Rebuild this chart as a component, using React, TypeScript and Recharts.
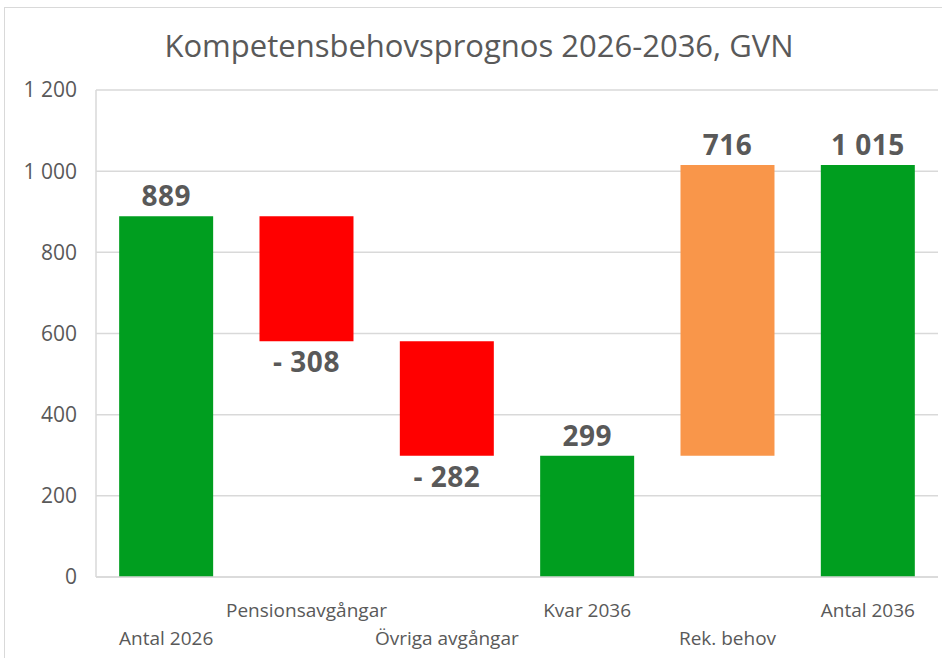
import React from "react";
import { BarChart, Bar, XAxis, YAxis, CartesianGrid, Cell, LabelList } from "recharts";

const categories = [
  "Antal 2026",
  "Pensionsavgångar",
  "Övriga avgångar",
  "Kvar 2036",
  "Rek. behov",
  "Antal 2036",
];
const values = [889, -308, -282, 299, 716, 1015];
const isTotal = [true, false, false, true, false, true];
const barColors = ["#009E1F", "#FF0000", "#FF0000", "#009E1F", "#F9964A", "#009E1F"];
const yTicks = [0, 200, 400, 600, 800, 1000, 1200];

const FONT = "'Open Sans', sans-serif";
const TEXT = "#595959";

const fmt = (n: number) =>
  (n < 0 ? "- " : "") + String(Math.abs(n)).replace(/\B(?=(\d{3})+(?!\d))/g, " ");

// build floating bars for the waterfall
let running = 0;
const data = categories.map((name, i) => {
  const v = values[i];
  let base = 0;
  if (isTotal[i]) {
    running = v;
  } else {
    base = v < 0 ? running + v : running;
    running += v;
  }
  return { name, base, size: Math.abs(v), label: fmt(v), neg: v < 0 };
});

const CategoryTick = (props: any) => {
  const { x, y, payload, index } = props;
  const dy = index % 2 === 0 ? 60 : 32;
  return (
    <text x={x} y={y + dy} textAnchor="middle" fill={TEXT} fontSize={19} fontFamily={FONT}>
      {payload.value}
    </text>
  );
};

const ValueLabel = (props: any) => {
  const { x, y, width, height, index } = props;
  const d = data[index];
  const ty = d.neg ? y + height + 31 : y - 10;
  return (
    <text
      x={x + width / 2}
      y={ty}
      textAnchor="middle"
      fill={TEXT}
      fontSize={28}
      fontWeight="bold"
      fontFamily={FONT}
      letterSpacing={0.5}
    >
      {d.label}
    </text>
  );
};

export default function App() {
  return (
    <div
      style={{
        position: "fixed",
        left: 0,
        top: 0,
        width: 942,
        height: 658,
        overflow: "hidden",
        background: "#fff",
      }}
    >
      <div
        style={{
          position: "absolute",
          left: 4,
          top: 7,
          width: 960,
          height: 700,
          border: "1px solid #d9d9d9",
        }}
      />
      <div
        style={{
          position: "absolute",
          left: 0,
          top: 25,
          width: 958,
          textAlign: "center",
          fontFamily: FONT,
          fontSize: 31,
          color: TEXT,
          lineHeight: "40px",
        }}
      >
        Kompetensbehovsprognos 2026-2036, GVN
      </div>
      <div style={{ position: "absolute", left: 0, top: 0 }}>
        <BarChart
          width={942}
          height={658}
          data={data}
          margin={{ top: 90, right: 4, bottom: 0, left: 0 }}
          barCategoryGap="16.5%"
        >
          <CartesianGrid vertical={false} stroke="#d9d9d9" strokeWidth={1.5} />
          <XAxis
            dataKey="name"
            height={81}
            interval={0}
            tickLine={false}
            axisLine={{ stroke: "#d9d9d9", strokeWidth: 1.5 }}
            tick={<CategoryTick />}
          />
          <YAxis
            width={96}
            domain={[0, 1200]}
            ticks={yTicks}
            tickFormatter={(v: number) => fmt(v)}
            tickLine={false}
            tickSize={0}
            tickMargin={19}
            axisLine={{ stroke: "#d9d9d9", strokeWidth: 1.5 }}
            tick={{ fill: TEXT, fontSize: 21, fontFamily: FONT }}
          />
          <Bar dataKey="base" stackId="w" fill="transparent" isAnimationActive={false} />
          <Bar dataKey="size" stackId="w" isAnimationActive={false}>
            {data.map((d, i) => (
              <Cell key={d.name} fill={barColors[i]} />
            ))}
            <LabelList dataKey="label" content={<ValueLabel />} />
          </Bar>
        </BarChart>
      </div>
    </div>
  );
}
